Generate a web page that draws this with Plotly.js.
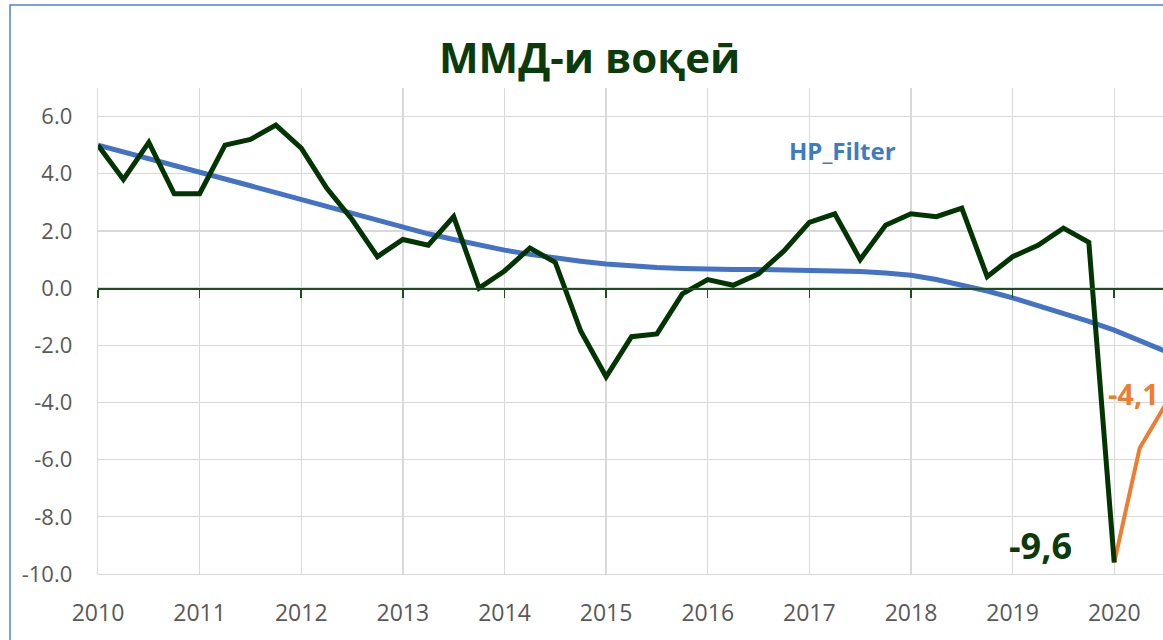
<!DOCTYPE html>
<html>
<head>
<meta charset="utf-8">
<script src="https://cdn.plot.ly/plotly-3.0.1.min.js"></script>
<style>
  html, body { margin: 0; padding: 0; background: #ffffff; }
  #chart { width: 1163px; height: 640px; }
</style>
</head>
<body>
<div id="chart"></div>
<script>
// ---- Data ----
const periods = [
  "2010Q1","2010Q2","2010Q3","2010Q4",
  "2011Q1","2011Q2","2011Q3","2011Q4",
  "2012Q1","2012Q2","2012Q3","2012Q4",
  "2013Q1","2013Q2","2013Q3","2013Q4",
  "2014Q1","2014Q2","2014Q3","2014Q4",
  "2015Q1","2015Q2","2015Q3","2015Q4",
  "2016Q1","2016Q2","2016Q3","2016Q4",
  "2017Q1","2017Q2","2017Q3","2017Q4",
  "2018Q1","2018Q2","2018Q3","2018Q4",
  "2019Q1","2019Q2","2019Q3","2019Q4",
  "2020Q1","2020Q2","2020Q3"
];

// Real GDP growth (dark green), 2010Q1 .. 2020Q1
const gdpGrowth = [
  5.0, 3.8, 5.1, 3.3,
  3.3, 5.0, 5.2, 5.7,
  4.9, 3.5, 2.4, 1.1,
  1.7, 1.5, 2.5, 0.0,
  0.6, 1.4, 0.9, -1.5,
  -3.1, -1.7, -1.6, -0.2,
  0.3, 0.1, 0.5, 1.3,
  2.3, 2.6, 1.0, 2.2,
  2.6, 2.5, 2.8, 0.4,
  1.1, 1.5, 2.1, 1.6,
  -9.6
];

// Forecast (orange), 2020Q1 .. 2020Q3
const forecastPeriods = ["2020Q1","2020Q2","2020Q3"];
const forecast = [-9.6, -5.6, -4.1];

// HP filter trend (blue), 2010Q1 .. 2020Q3
const hpFilter = [
  5.00, 4.77, 4.53, 4.29,
  4.06, 3.82, 3.58, 3.34,
  3.10, 2.85, 2.60, 2.35,
  2.10, 1.90, 1.70, 1.50,
  1.33, 1.18, 1.05, 0.94,
  0.84, 0.77, 0.72, 0.69,
  0.66, 0.65, 0.65, 0.64,
  0.63, 0.61, 0.58, 0.53,
  0.45, 0.30, 0.12, -0.10,
  -0.34, -0.60, -0.88, -1.16,
  -1.47, -1.82, -2.20
];

const yearTicks = [2010,2011,2012,2013,2014,2015,2016,2017,2018,2019,2020];
const yearLabels = ["2010","2011","2012","2013","2014","2015","2016","2017","2018","2019","2020"];
const yTicks = [-10,-8,-6,-4,-2,0,2,4,6];
const yLabels = ["-10.0","-8.0","-6.0","-4.0","-2.0","0.0","2.0","4.0","6.0"];

const titleText = "ММД-и воқеӣ";
const hpLabel = "HP_Filter";
const lowLabel = "-9,6";
const forecastLabel = "-4,1";

// ---- helpers ----
function toX(p) {
  const y = parseInt(p.slice(0, 4), 10);
  const q = parseInt(p.slice(5), 10);
  return y + (q - 1) / 4;
}

const FONT = "Open Sans, Noto Sans, DejaVu Sans, sans-serif";
const xRange = [2010, 2020.48];
const yRange = [-10, 7];

const traces = [
  {
    x: periods.slice(0, hpFilter.length).map(toX),
    y: hpFilter,
    mode: "lines",
    line: { color: "#4472C4", width: 5 },
    hoverinfo: "skip",
    name: "HP_Filter"
  },
  {
    x: forecastPeriods.map(toX),
    y: forecast,
    mode: "lines",
    line: { color: "#ED7D31", width: 4 },
    hoverinfo: "skip",
    name: "forecast"
  },
  {
    x: periods.slice(0, gdpGrowth.length).map(toX),
    y: gdpGrowth,
    mode: "lines",
    line: { color: "#033503", width: 5 },
    hoverinfo: "skip",
    name: "GDP"
  },
  {
    // carrier for the zero-crossing axis with year tick marks
    x: yearTicks,
    y: yearTicks.map(() => 0),
    xaxis: "x2",
    yaxis: "y",
    mode: "markers",
    marker: { opacity: 0, size: 1 },
    hoverinfo: "skip",
    showlegend: false
  }
];

const layout = {
  width: 1163,
  height: 640,
  margin: { l: 98, r: 0, t: 88, b: 66, pad: 0 },
  paper_bgcolor: "#ffffff",
  plot_bgcolor: "#ffffff",
  showlegend: false,
  title: {
    text: titleText,
    font: { family: FONT, size: 42, color: "#0B3A0B", weight: 700 },
    xref: "container",
    x: 0.507,
    xanchor: "center",
    yref: "container",
    y: 1 - 58 / 640,
    yanchor: "middle"
  },
  xaxis: {
    range: xRange,
    tickmode: "array",
    tickvals: yearTicks,
    ticktext: yearLabels,
    showgrid: true,
    gridcolor: "#D9D9D9",
    gridwidth: 1.3,
    zeroline: false,
    showline: true,
    linecolor: "#D9D9D9",
    linewidth: 1.3,
    ticks: "",
    ticklabelstandoff: 18,
    tickfont: { family: FONT, size: 23, color: "#595959" },
    fixedrange: true
  },
  xaxis2: {
    range: xRange,
    overlaying: "x",
    anchor: "free",
    position: (0 - yRange[0]) / (yRange[1] - yRange[0]),
    side: "bottom",
    tickmode: "array",
    tickvals: yearTicks,
    showticklabels: false,
    showgrid: false,
    zeroline: false,
    showline: true,
    linecolor: "#1E4D1E",
    linewidth: 1.5,
    ticks: "outside",
    ticklen: 8,
    tickwidth: 1.5,
    tickcolor: "#1E4D1E",
    fixedrange: true
  },
  yaxis: {
    range: yRange,
    tickmode: "array",
    tickvals: yTicks,
    ticktext: yLabels,
    showgrid: true,
    gridcolor: "#D9D9D9",
    gridwidth: 1.3,
    zeroline: false,
    showline: true,
    linecolor: "#D9D9D9",
    linewidth: 1.3,
    ticks: "",
    ticklabelstandoff: 20,
    tickfont: { family: FONT, size: 22, color: "#595959" },
    fixedrange: true
  },
  annotations: [
    {
      text: hpLabel,
      xref: "x", yref: "y",
      x: 2017.33, y: 4.8,
      xanchor: "center", yanchor: "middle",
      showarrow: false,
      font: { family: FONT, size: 24, color: "#3D7CC0", weight: 700 }
    },
    {
      text: lowLabel,
      xref: "x", yref: "y",
      x: 2019.27, y: -9.0,
      xanchor: "center", yanchor: "middle",
      showarrow: false,
      font: { family: FONT, size: 36, color: "#0B3A0B", weight: 700 }
    },
    {
      text: forecastLabel,
      xref: "x", yref: "y",
      x: 2019.92, y: -3.7,
      xanchor: "left", yanchor: "middle",
      showarrow: false,
      font: { family: FONT, size: 29, color: "#ED7D31", weight: 700 }
    }
  ],
  shapes: [
    {
      type: "rect",
      xref: "paper", yref: "paper",
      x0: (10 - 98) / 1065, x1: 1.2,
      y0: -0.3, y1: 1 + (88 - 5) / 486,
      line: { color: "#4F81D4", width: 1.5 },
      fillcolor: "rgba(0,0,0,0)",
      layer: "above"
    }
  ]
};

Plotly.newPlot("chart", traces, layout, { displayModeBar: false, staticPlot: true });
</script>
</body>
</html>
